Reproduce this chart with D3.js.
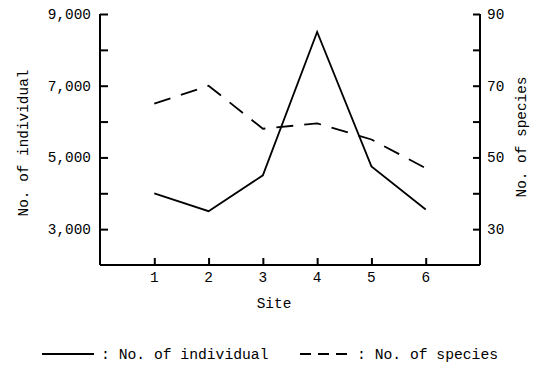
<!DOCTYPE html>
<html>
<head>
<meta charset="utf-8">
<script src="https://cdn.jsdelivr.net/npm/d3@7"></script>
<style>
  body { margin: 0; background: #fff; }
  text { font-family: "Liberation Mono", "DejaVu Sans Mono", monospace; fill: #000; }
</style>
</head>
<body>
<div id="chart"></div>
<script>
// data
const sites = [1, 2, 3, 4, 5, 6];
const individuals = [4000, 3500, 4500, 8500, 4750, 3550];
const species = [65, 70, 58, 59.5, 55, 47];
const leftTicks = [3000, 5000, 7000, 9000];
const leftMinor = [4000, 6000, 8000];
const rightTicks = [30, 50, 70, 90];
const rightMinor = [40, 60, 80];

const W = 535, H = 366;
const svg = d3.select('#chart').append('svg')
  .attr('width', W).attr('height', H);

const x = d3.scaleLinear().domain([0, 7]).range([100, 480]);
const yL = d3.scaleLinear().domain([2000, 9000]).range([265, 14]);
const yR = d3.scaleLinear().domain([20, 90]).range([265, 14]);

const fs = 14.4;

// left axis
const gL = svg.append('g').attr('transform', 'translate(100,0)');
gL.call(d3.axisRight(yL).tickValues(leftTicks.concat(leftMinor)).tickSize(8).tickFormat(''));
gL.selectAll('path, line').attr('stroke', '#000').attr('stroke-width', 2);
gL.select('.domain').attr('d', `M0,${yL(9000)}V${yL(2000)}`);
gL.selectAll('.lbl').data(leftTicks).join('text')
  .attr('x', -9).attr('y', d => yL(d)).attr('dy', '0.35em')
  .attr('text-anchor', 'end').style('font-size', fs + 'px')
  .text(d3.format(','));

// right axis
const gR = svg.append('g').attr('transform', 'translate(480,0)');
gR.call(d3.axisLeft(yR).tickValues(rightTicks.concat(rightMinor)).tickSize(7).tickFormat(''));
gR.selectAll('path, line').attr('stroke', '#000').attr('stroke-width', 2);
gR.select('.domain').attr('d', `M0,${yR(90)}V${yR(20)}`);
gR.selectAll('.lbl').data(rightTicks).join('text')
  .attr('x', 7).attr('y', d => yR(d)).attr('dy', '0.35em')
  .attr('text-anchor', 'start').style('font-size', fs + 'px')
  .text(d => d);

// bottom axis
const gB = svg.append('g').attr('transform', 'translate(0,265)');
gB.call(d3.axisTop(x).tickValues(sites).tickSize(7).tickFormat(''));
gB.selectAll('path, line').attr('stroke', '#000').attr('stroke-width', 2);
gB.select('.domain').attr('d', `M${x(0)},0H${x(7)}`);
gB.selectAll('.lbl').data(sites).join('text')
  .attr('x', d => x(d)).attr('y', 17).attr('text-anchor', 'middle')
  .style('font-size', fs + 'px').text(d => d);

// axis titles
svg.append('text').attr('x', 274).attr('y', 308).attr('text-anchor', 'middle')
  .style('font-size', fs + 'px').text('Site');
svg.append('text').attr('transform', 'translate(28,143) rotate(-90)')
  .attr('text-anchor', 'middle').style('font-size', fs + 'px').text('No. of individual');
svg.append('text').attr('transform', 'translate(526,137) rotate(-90)')
  .attr('text-anchor', 'middle').style('font-size', fs + 'px').text('No. of species');

// lines
const lineL = d3.line().x((d, i) => x(sites[i])).y(d => yL(d));
const lineR = d3.line().x((d, i) => x(sites[i])).y(d => yR(d));

svg.append('path').datum(individuals).attr('d', lineL)
  .attr('fill', 'none').attr('stroke', '#000').attr('stroke-width', 1.8);
svg.append('path').datum(species).attr('d', lineR)
  .attr('fill', 'none').attr('stroke', '#000').attr('stroke-width', 1.8)
  .attr('stroke-dasharray', '17,11');

// legend
const ly = 354;
svg.append('line').attr('x1', 42).attr('x2', 94).attr('y1', ly).attr('y2', ly)
  .attr('stroke', '#000').attr('stroke-width', 1.8);
svg.append('text').attr('x', 101).attr('y', ly + 5).style('font-size', '14.7px')
  .text(': No. of individual');
svg.append('line').attr('x1', 300).attr('x2', 348).attr('y1', ly).attr('y2', ly)
  .attr('stroke', '#000').attr('stroke-width', 1.8).attr('stroke-dasharray', '11,7');
svg.append('text').attr('x', 357).attr('y', ly + 5).style('font-size', '14.7px')
  .text(': No. of species');
</script>
</body>
</html>
